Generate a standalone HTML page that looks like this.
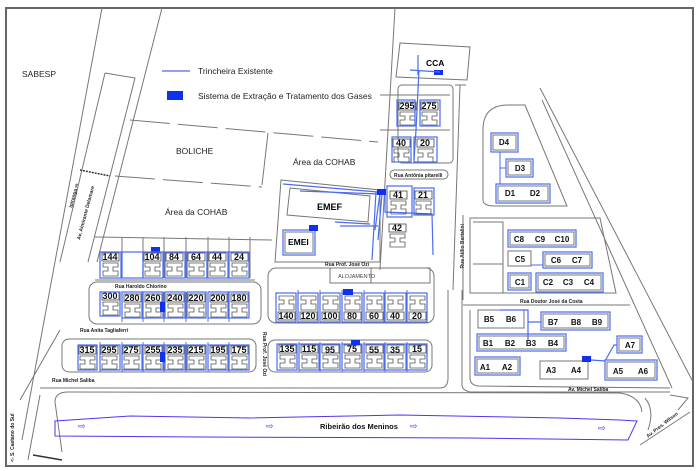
<!DOCTYPE html>
<html><head><meta charset="utf-8"><style>
html,body{margin:0;padding:0;background:#fff}
svg{display:block;font-family:"Liberation Sans",sans-serif}
.g{fill:none;stroke:#777;stroke-width:1}
.b{fill:none;stroke:#4a6cf0;stroke-width:1.2}
.n{font-size:9px;font-weight:bold;fill:#111;text-anchor:middle}
.s{font-size:5px;font-weight:bold;fill:#222}
.bs{fill:#1030f0}
</style></head><body>
<svg width="697" height="471" viewBox="0 0 697 471">
<defs>
<g id="u"><rect x="1" y="1" width="17" height="8" fill="#fff" stroke="#444" stroke-width="0.8"/><path d="M2,11H17V15H12V19H17V24H2V19H7V15H2Z" fill="none" stroke="#555" stroke-width="0.8"/></g>
<g id="d"><rect x="1" y="18" width="17" height="8" fill="#fff" stroke="#444" stroke-width="0.8"/><path d="M2,2H17V6H12V10H17V16H2V10H7V6H2Z" fill="none" stroke="#555" stroke-width="0.8"/></g>
</defs>
<rect x="6" y="8" width="687" height="458" fill="#fff" stroke="#666" stroke-width="2"/>
<path class="g" d="M102,8 L22,440 M162,8 L97,262 M105,73 L135,78 L88,262 M105,73 L60,262"/>
<path d="M80,170 L110,176" stroke="#333" stroke-width="1.5" stroke-dasharray="2,1"/>
<text class="s" transform="translate(72,208) rotate(-75)">Ipiranga ⇨</text>
<text class="s" transform="translate(80,240) rotate(-75)">Av. Almirante Delamare</text>
<line x1="162" y1="71" x2="190" y2="71" stroke="#4a6cf0" stroke-width="1.2"/>
<text x="198" y="74" font-size="8.5" fill="#222">Trincheira Existente</text>
<rect x="167" y="91" width="16" height="9" class="bs"/>
<text x="198" y="99" font-size="8.5" fill="#222">Sistema de Extração e Tratamento dos Gases</text>
<text x="22" y="77" font-size="8.5" fill="#222">SABESP</text>
<text x="176" y="154" font-size="8.5" fill="#222">BOLICHE</text>
<text x="293" y="165" font-size="8.5" fill="#222">Área da COHAB</text>
<text x="165" y="215" font-size="8.5" fill="#222">Área da COHAB</text>
<path class="g" d="M130,120 L378,142" stroke-dasharray="40,8"/>
<path class="g" d="M115,176 L262,187" stroke-dasharray="40,8"/>
<path class="g" d="M268,133 L262,185"/>
<path class="g" d="M395,8 L380,270 M380,95 L450,95 M380,130 L450,130 M460,85 L453,290 M466,85 L455,85"/>
<path class="g" d="M281,180 L380,190 L380,262 L275,262 Z"/>
<path class="g" d="M400,43 L470,47 L467,80 L396,77 Z"/>
<text x="426" y="66" font-size="8.5" font-weight="bold">CCA</text>
<rect x="434" y="70" width="9" height="5" class="bs"/>
<path class="b" d="M418,55 L418,75 M410,70 L440,72 M419,70 L416,130 L414,160"/>
<rect x="398" y="85" width="55" height="78" rx="4" class="g"/>
<use href="#u" x="398" y="101"/><text class="n" x="407" y="109">295</text>
<use href="#u" x="420" y="101"/><text class="n" x="429" y="109">275</text>
<rect x="397" y="100" width="18" height="26" class="b"/><rect x="420" y="100" width="20" height="26" class="b"/>
<use href="#u" x="392" y="138"/><text class="n" x="401" y="146">40</text>
<use href="#u" x="416" y="138"/><text class="n" x="425" y="146">20</text>
<rect x="392" y="137" width="19" height="25" class="b"/><rect x="414" y="137" width="23" height="25" class="b"/>
<rect x="390" y="170" width="58" height="9" rx="4.5" class="g"/>
<text class="s" x="394" y="177">Rua Antônia pitarelli</text>
<path class="g" d="M290,188 L370,196 L368,222 L287,215 Z"/>
<text x="317" y="210" font-size="9" font-weight="bold">EMEF</text>
<path class="b" d="M283,184 L378,192 M300,191 L380,194 M335,222 L370,224 M340,226 L378,226 M376,192 L372,260 M380,193 L375,230 M382,194 L378,240 M385,194 L385,212 L432,214 L433,255"/>
<rect x="283" y="230" width="32" height="25" class="b"/><rect x="285" y="232" width="28" height="21" class="g"/>
<text x="288" y="245" font-size="8.5" font-weight="bold">EMEI</text>
<rect x="309" y="225" width="9" height="6" class="bs"/>
<rect x="377" y="189" width="9" height="6" class="bs"/>
<use href="#u" x="389" y="190"/><text class="n" x="398" y="198">41</text>
<use href="#u" x="414" y="190"/><text class="n" x="423" y="198">21</text>
<rect x="387" y="186" width="25" height="31" class="b"/><rect x="414" y="188" width="20" height="27" class="b"/>
<use href="#u" x="388" y="223"/><text class="n" x="397" y="231">42</text>
<path class="g" d="M95,237 L272,240 M122,237V278 M143,237V278 M164,237V278 M186,237V278 M208,237V278 M229,237V278 M250,237V278 M95,280 L255,280"/>
<rect x="151" y="247" width="9" height="6" class="bs"/>
<g>
<use href="#u" x="101" y="252"/><text class="n" x="110" y="260">144</text><rect x="100" y="252" width="21" height="26" class="b"/>
<rect x="122" y="252" width="21" height="26" class="b"/>
<use href="#u" x="143" y="252"/><text class="n" x="152" y="260">104</text><rect x="143" y="252" width="20" height="26" class="b"/>
<use href="#u" x="165" y="252"/><text class="n" x="174" y="260">84</text><rect x="165" y="252" width="20" height="26" class="b"/>
<use href="#u" x="187" y="252"/><text class="n" x="196" y="260">64</text><rect x="187" y="252" width="20" height="26" class="b"/>
<use href="#u" x="208" y="252"/><text class="n" x="217" y="260">44</text><rect x="207" y="252" width="21" height="26" class="b"/>
<use href="#u" x="230" y="252"/><text class="n" x="239" y="260">24</text><rect x="229" y="252" width="20" height="26" class="b"/>
</g>
<text class="s" x="115" y="288">Rua Haroldo Chiorino</text>
<rect x="89" y="282" width="172" height="42" rx="8" class="g"/>
<path class="g" d="M122,292V322 M143,292V322 M164,292V322 M186,292V322 M208,292V322 M229,292V322"/>
<use href="#u" x="101" y="291"/><text class="n" x="110" y="299">300</text><rect x="100" y="292" width="20" height="24" class="b"/>
<use href="#u" x="123" y="293"/><text class="n" x="132" y="301">280</text><rect x="122" y="292" width="20" height="26" class="b"/>
<use href="#u" x="144" y="293"/><text class="n" x="153" y="301">260</text><rect x="143" y="292" width="20" height="26" class="b"/>
<use href="#u" x="166" y="293"/><text class="n" x="175" y="301">240</text><rect x="165" y="292" width="20" height="26" class="b"/>
<use href="#u" x="187" y="293"/><text class="n" x="196" y="301">220</text><rect x="187" y="292" width="19" height="26" class="b"/>
<use href="#u" x="209" y="293"/><text class="n" x="218" y="301">200</text><rect x="208" y="292" width="20" height="26" class="b"/>
<use href="#u" x="230" y="293"/><text class="n" x="239" y="301">180</text><rect x="229" y="292" width="20" height="26" class="b"/>
<rect x="160" y="302" width="5" height="10" class="bs"/>
<text class="s" x="80" y="332">Rua Anita Tagliaferri</text>
<rect x="62" y="339" width="194" height="33" rx="7" class="g"/>
<path class="g" d="M100,342V372 M122,342V372 M143,342V372 M164,342V372 M186,342V372 M208,342V372 M229,342V372"/>
<use href="#u" x="78" y="345"/><text class="n" x="87" y="353">315</text><rect x="78" y="345" width="19" height="25" class="b"/>
<use href="#u" x="100" y="345"/><text class="n" x="109" y="353">295</text><rect x="100" y="345" width="20" height="25" class="b"/>
<use href="#u" x="122" y="345"/><text class="n" x="131" y="353">275</text><rect x="122" y="345" width="20" height="25" class="b"/>
<use href="#u" x="144" y="345"/><text class="n" x="153" y="353">255</text><rect x="143" y="345" width="20" height="25" class="b"/>
<use href="#u" x="166" y="345"/><text class="n" x="175" y="353">235</text><rect x="165" y="345" width="20" height="25" class="b"/>
<use href="#u" x="187" y="345"/><text class="n" x="196" y="353">215</text><rect x="187" y="345" width="19" height="25" class="b"/>
<use href="#u" x="209" y="345"/><text class="n" x="218" y="353">195</text><rect x="208" y="345" width="20" height="25" class="b"/>
<use href="#u" x="230" y="345"/><text class="n" x="239" y="353">175</text><rect x="229" y="345" width="20" height="25" class="b"/>
<rect x="160" y="352" width="5" height="10" class="bs"/>
<text class="s" x="52" y="382">Rua Michel Saliba</text>
<text class="s" transform="translate(263,332) rotate(90)">Rua Prof. José Ozi</text>
<path class="g" d="M60,330 L20,400 M40,388 L440,388 Q448,388 448,378 L448,290 M462,290 L462,385 Q462,390 470,392 L670,392"/>
<text class="s" x="325" y="266">Rua Prof. José Ozi</text>
<rect x="268" y="268" width="166" height="55" rx="8" class="g"/>
<rect x="330" y="268" width="100" height="15" class="g"/><line x1="371" y1="268" x2="371" y2="283" class="g"/>
<text x="338" y="278" font-size="5.5" fill="#444">ALOJAMENTO</text>
<path class="g" d="M298,290V323 M320,290V323 M342,290V323 M364,290V323 M385,290V323 M407,290V323"/>
<use href="#d" x="277" y="294"/><text class="n" x="286" y="319">140</text><rect x="276" y="293" width="20" height="29" class="b"/>
<use href="#d" x="299" y="294"/><text class="n" x="308" y="319">120</text><rect x="298" y="293" width="20" height="29" class="b"/>
<use href="#d" x="321" y="294"/><text class="n" x="330" y="319">100</text><rect x="320" y="293" width="20" height="29" class="b"/>
<use href="#d" x="343" y="294"/><text class="n" x="352" y="319">80</text><rect x="342" y="293" width="20" height="29" class="b"/>
<use href="#d" x="365" y="294"/><text class="n" x="374" y="319">60</text><rect x="364" y="293" width="20" height="29" class="b"/>
<use href="#d" x="386" y="294"/><text class="n" x="395" y="319">40</text><rect x="385" y="293" width="21" height="29" class="b"/>
<use href="#d" x="408" y="294"/><text class="n" x="417" y="319">20</text><rect x="407" y="293" width="20" height="29" class="b"/>
<rect x="343" y="289" width="10" height="6" class="bs"/>
<rect x="268" y="340" width="164" height="32" rx="7" class="g"/>
<path class="g" d="M299,342V372 M320,342V372 M342,342V372 M364,342V372 M385,342V372 M407,342V372"/>
<use href="#u" x="278" y="344"/><text class="n" x="287" y="352">135</text><rect x="277" y="344" width="20" height="26" class="b"/>
<use href="#u" x="300" y="344"/><text class="n" x="309" y="352">115</text><rect x="299" y="344" width="20" height="26" class="b"/>
<use href="#u" x="321" y="344"/><text class="n" x="330" y="353">95</text><rect x="320" y="344" width="20" height="26" class="b"/>
<use href="#u" x="343" y="344"/><text class="n" x="352" y="352">75</text><rect x="342" y="344" width="20" height="26" class="b"/>
<use href="#u" x="365" y="344"/><text class="n" x="374" y="353">55</text><rect x="364" y="344" width="20" height="26" class="b"/>
<use href="#u" x="386" y="344"/><text class="n" x="395" y="353">35</text><rect x="385" y="344" width="21" height="26" class="b"/>
<use href="#u" x="408" y="344"/><text class="n" x="417" y="352">15</text><rect x="407" y="344" width="20" height="26" class="b"/>
<rect x="351" y="340" width="9" height="5" class="bs"/>
<path class="g" d="M540,88 L693,382 M542,100 L672,388"/>
<path class="g" d="M483,200 L483,130 Q483,105 508,105 L525,105 L567,206 L495,206 Q483,206 483,200 Z"/>
<text class="s" transform="translate(464,224) rotate(-90)" text-anchor="end">Rua Atílio Bartalini</text>
<path class="g" d="M463,215 L463,300 M470,218 L600,218 L616,293 L470,293 Z M473,222 H503 V293 M473,264 H503"/>
<path class="g" d="M463,305 L630,305 M470,310 L470,378 Q470,385 478,386 L670,388"/>
<text class="s" x="520" y="303">Rua Doutor José da Costa</text>
<g font-size="8" font-weight="bold" text-anchor="middle" fill="#111">
<rect x="491" y="133" width="27" height="19" class="b"/><rect x="493" y="135" width="23" height="15" class="g"/><text x="504" y="145">D4</text>
<rect x="506" y="159" width="27" height="18" class="b"/><rect x="508" y="161" width="23" height="14" class="g"/><text x="520" y="171">D3</text>
<rect x="496" y="184" width="54" height="19" class="b"/><rect x="498" y="186" width="50" height="15" class="g"/><text x="510" y="196">D1</text><text x="535" y="196">D2</text>
<line x1="500" y1="152" x2="500" y2="184" stroke="#4a6cf0"/><line x1="500" y1="168" x2="506" y2="168" stroke="#4a6cf0"/>
<rect x="508" y="230" width="68" height="17" class="b"/><rect x="510" y="232" width="64" height="13" class="g"/><text x="519" y="242">C8</text><text x="540" y="242">C9</text><text x="562" y="242">C10</text>
<rect x="508" y="251" width="23" height="15" class="g"/><text x="520" y="262">C5</text>
<rect x="543" y="252" width="49" height="16" class="b"/><rect x="545" y="254" width="45" height="12" class="g"/><text x="556" y="263">C6</text><text x="577" y="263">C7</text>
<line x1="531" y1="265" x2="543" y2="265" stroke="#4a6cf0"/>
<rect x="508" y="273" width="23" height="17" class="b"/><rect x="510" y="275" width="19" height="13" class="g"/><text x="520" y="285">C1</text>
<rect x="536" y="273" width="67" height="19" class="b"/><rect x="538" y="275" width="63" height="15" class="g"/><text x="548" y="285">C2</text><text x="568" y="285">C3</text><text x="589" y="285">C4</text>
<rect x="478" y="310" width="46" height="18" class="g"/><text x="489" y="322">B5</text><text x="511" y="322">B6</text>
<rect x="541" y="312" width="69" height="18" class="b"/><rect x="543" y="314" width="65" height="14" class="g"/><text x="553" y="325">B7</text><text x="576" y="325">B8</text><text x="597" y="325">B9</text>
<path d="M500,310 H528 V340 M528,322 H541" class="b"/>
<rect x="477" y="334" width="89" height="17" class="b"/><rect x="479" y="336" width="85" height="13" class="g"/><text x="488" y="346">B1</text><text x="510" y="346">B2</text><text x="531" y="346">B3</text><text x="553" y="346">B4</text>
<rect x="475" y="357" width="45" height="18" class="b"/><rect x="477" y="359" width="41" height="14" class="g"/><text x="485" y="370">A1</text><text x="507" y="370">A2</text>
<rect x="540" y="361" width="48" height="18" class="g"/><text x="551" y="373">A3</text><text x="576" y="373">A4</text>
<rect x="605" y="360" width="52" height="20" class="b"/><rect x="607" y="362" width="48" height="16" class="g"/><text x="618" y="374">A5</text><text x="643" y="374">A6</text>
<rect x="617" y="336" width="25" height="17" class="b"/><rect x="619" y="338" width="21" height="13" class="g"/><text x="630" y="348">A7</text>
</g>
<rect x="582" y="356" width="9" height="6" class="bs"/>
<path class="b" d="M591,360 L605,361 M605,361 L614,345 L617,345"/>
<text class="s" x="568" y="391">Av. Michel Saliba</text>
<path d="M62,452 L55,402 Q55,392 68,392 L620,393 Q640,396 642,412" class="g"/>
<path d="M55,421 L130,416 L250,418 L400,415 L560,418 L620,420 L637,421 L628,440 L470,438 L200,437 L55,436 Z" fill="none" stroke="#5533ee" stroke-width="1"/>
<g fill="#5533ee" font-size="9"><text x="78" y="429">⇨</text><text x="266" y="429">⇨</text><text x="410" y="429">⇨</text><text x="598" y="431">⇨</text></g>
<text x="320" y="429" font-size="7.5" font-weight="bold" fill="#111">Ribeirão dos Meninos</text>
<path d="M33,455 L62,460" stroke="#333" stroke-width="1.5"/>
<path class="g" d="M40,395 L28,460 M645,398 Q655,410 648,430 M670,395 L688,398 L678,410 M640,445 L690,412"/>
<text class="s" transform="translate(14,462) rotate(-90)">&lt;- S. Caetano do Sul</text>
<text class="s" transform="translate(648,438) rotate(-38)">Av. Pres. Wilson</text>
</svg>
</body></html>
